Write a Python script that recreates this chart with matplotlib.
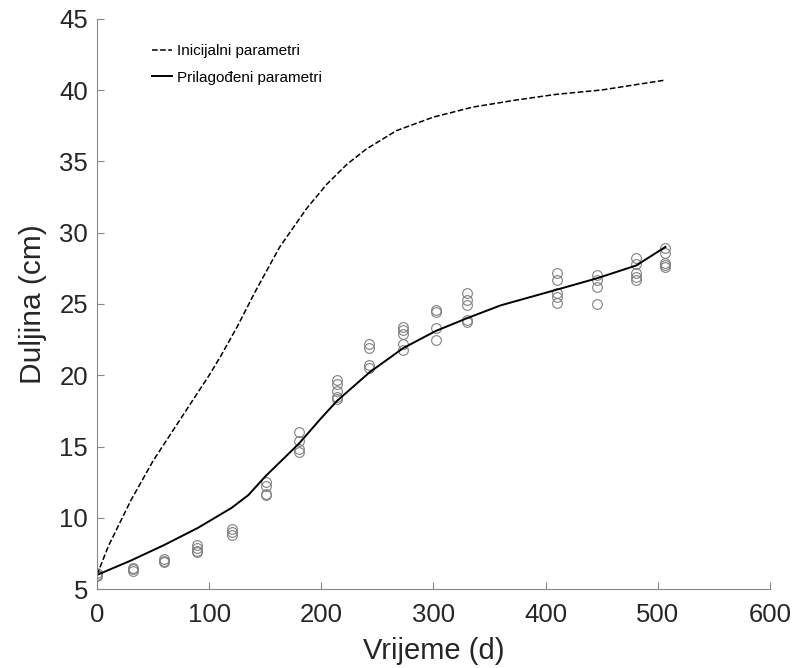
import matplotlib
matplotlib.use("Agg")
import matplotlib.pyplot as plt
import numpy as np

plt.rcParams["font.family"] = ["Liberation Sans", "DejaVu Sans"]

# measured lengths (cm) per sampling day
obs_days = [0, 32, 60, 89, 120, 151, 180, 214, 243, 273, 302, 330, 410, 446, 481, 507]
obs_lengths = [
    [6.1, 6.0, 5.9],
    [6.5, 6.4, 6.3],
    [7.1, 7.0, 6.9],
    [8.1, 7.9, 7.7, 7.6],
    [9.2, 9.0, 8.8],
    [12.5, 12.2, 11.7, 11.6],
    [16.0, 15.4, 14.8, 14.6],
    [19.7, 19.4, 18.9, 18.5, 18.3],
    [22.2, 21.9, 20.7, 20.5],
    [23.4, 23.2, 22.9, 22.2, 21.8],
    [24.6, 24.4, 23.3, 22.5],
    [25.8, 25.3, 24.9, 23.9, 23.7],
    [27.2, 26.7, 25.8, 25.5, 25.1],
    [27.0, 26.7, 26.2, 25.0],
    [28.2, 27.8, 27.2, 26.9, 26.7],
    [28.9, 28.6, 27.9, 27.7, 27.6],
]

# model with initial parameters
init_t = [0, 10, 30, 50, 75, 100, 110, 125, 142, 163, 187, 205, 223, 240, 267,
          300, 335, 374, 410, 450, 507]
init_len = [6.0, 8.0, 11.2, 14.0, 17.0, 20.0, 21.3, 23.4, 26.0, 29.0, 31.7, 33.4,
            34.8, 35.85, 37.15, 38.1, 38.8, 39.3, 39.7, 40.0, 40.7]

# model with fitted parameters
fit_t = [0, 30, 60, 90, 120, 135, 150, 180, 200, 214, 243, 273, 302, 330, 360,
         410, 446, 481, 507]
fit_len = [6.0, 7.0, 8.1, 9.3, 10.7, 11.6, 12.9, 15.2, 17.0, 18.2, 20.2, 21.9,
           23.1, 24.0, 24.9, 26.0, 26.8, 27.7, 29.0]

fig = plt.figure(figsize=(7.98, 6.68), dpi=100)
ax = fig.add_axes([0.1216, 0.118, 0.843, 0.854])

for d, vals in zip(obs_days, obs_lengths):
    ax.plot([d] * len(vals), vals, "o", mfc="none", mec="#808080", ms=7, mew=0.8)

ax.plot(init_t, init_len, "k--", lw=1.1, label="Inicijalni parametri")
ax.plot(fit_t, fit_len, "k-", lw=1.4, label="Prilagođeni parametri")

ax.set_xlim(0, 600)
ax.set_ylim(5, 45)
ax.set_xticks(np.arange(0, 601, 100))
ax.set_yticks(np.arange(5, 46, 5))
ax.tick_params(direction="in", labelsize=18.5, labelcolor="#262626",
               color="#888888", length=5)
ax.tick_params(axis="x", pad=10)
ax.tick_params(axis="y", pad=6.5)
for s in ["top", "right"]:
    ax.spines[s].set_visible(False)
for s in ["left", "bottom"]:
    ax.spines[s].set_color("#888888")

ax.set_xlabel("Vrijeme (d)", fontsize=21, color="#262626", labelpad=7)
ax.set_ylabel("Duljina (cm)", fontsize=21.5, color="#262626", labelpad=9)

ax.legend(loc="upper left", bbox_to_anchor=(0.082, 0.955), frameon=False,
          borderaxespad=0, borderpad=0, fontsize=11, handlelength=1.3,
          handletextpad=0.3, labelspacing=0.8)

fig.savefig("out.png", dpi=100)
